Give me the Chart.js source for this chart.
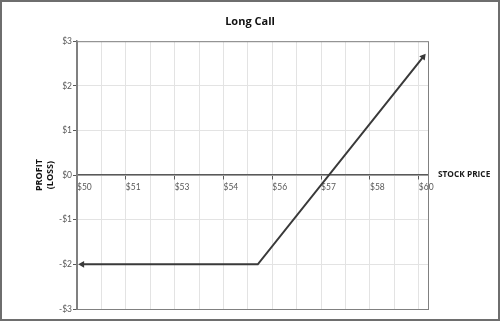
<!DOCTYPE html>
<html>
<head>
<meta charset="utf-8">
<script src="https://cdn.jsdelivr.net/npm/chart.js@4"></script>
<style>
  html, body { margin: 0; padding: 0; background: #fff; }
  #wrap { width: 500px; height: 321px; }
</style>
</head>
<body>
<div id="wrap"><canvas id="grafica"></canvas></div>
<script>
// datos del grafico
const precios = [50.15, 55.29, 60.13];
const ganancia = [-2, -2, 2.65];
const xTickLabels = ['$50', '$51', '$53', '$54', '$56', '$57', '$58', '$60'];
const yTickLabels = ['-$3', '-$2', '-$1', '$0', '$1', '$2', '$3'];

const FONT = 'Lato, "Open Sans", sans-serif';
const BOLD = '"Open Sans", Lato, sans-serif';

// marco exterior, borde del area y texto "STOCK PRICE"
const extras = {
  id: 'extras',
  afterDraw(chart) {
    const { ctx, chartArea: a } = chart;
    ctx.save();
    ctx.strokeStyle = '#808080';
    ctx.lineWidth = 1;
    ctx.strokeRect(a.left + 0.5, a.top + 0.5, a.right - a.left, a.bottom - a.top);
    ctx.strokeStyle = '#6e6e6e';
    ctx.lineWidth = 2;
    ctx.strokeRect(1, 1, chart.width - 2, chart.height - 2);
    ctx.fillStyle = '#1a1a1a';
    ctx.font = 'bold 8.3px ' + BOLD;
    ctx.textBaseline = 'middle';
    ctx.fillText('STOCK PRICE', a.right + 10, chart.scales.y.getPixelForValue(0));
    ctx.restore();
  }
};

const ctx = document.getElementById('grafica').getContext('2d');
let myChart = new Chart(ctx, {
  type: 'line',
  data: {
    datasets: [
      {
        label: 'Long Call',
        data: precios.map((p, i) => ({ x: p, y: ganancia[i] })),
        borderColor: '#3a3a3a',
        backgroundColor: '#3a3a3a',
        borderWidth: 2,
        pointStyle: 'triangle',
        pointRadius: c => (c.dataIndex === 1 ? 0 : 2),
        pointRotation: c => (c.dataIndex === 0 ? -90 : 38),
        tension: 0
      }
    ]
  },
  options: {
    responsive: true,
    maintainAspectRatio: false,
    animation: false,
    layout: { padding: { left: 0, right: 0, top: 0, bottom: 12 } },
    plugins: {
      legend: { display: false },
      tooltip: { enabled: false },
      title: {
        display: true,
        text: 'Long Call',
        color: '#111',
        font: { family: BOLD, size: 11, weight: 'bold', lineHeight: 1.2 },
        padding: { top: 15, bottom: 13 }
      }
    },
    scales: {
      x: {
        type: 'linear',
        position: { y: 0 },
        min: 50,
        max: 60.27,
        afterBuildTicks: s => {
          s.ticks = [];
          for (let k = 0; k <= 14; k++) s.ticks.push({ value: 50 + k * 10 / 14 });
        },
        grid: {
          color: '#e3e3e3',
          lineWidth: 1,
          tickLength: 4,
          tickColor: c => (c.index % 2 ? 'rgba(0,0,0,0)' : '#595959')
        },
        border: { color: '#595959', width: 1.5 },
        ticks: {
          autoSkip: false,
          maxRotation: 0,
          align: 'start',
          padding: 3,
          color: '#595959',
          font: { family: FONT, size: 8.5 },
          callback: (v, i) => (i % 2 ? '' : xTickLabels[i / 2])
        }
      },
      y: {
        position: 'left',
        min: -3,
        max: 3,
        afterFit: s => { s.width = 77; },
        grid: { color: '#e3e3e3', tickLength: 4, tickColor: '#595959' },
        border: { color: '#808080', width: 1.5 },
        ticks: {
          stepSize: 1,
          padding: 1,
          color: '#595959',
          font: { family: FONT, size: 8.5 },
          callback: (v, i) => yTickLabels[i]
        },
        title: {
          display: true,
          text: ['PROFIT', '(LOSS)'],
          color: '#111',
          font: { family: BOLD, size: 9, weight: 'bold', lineHeight: 1.2 },
          padding: { top: 34, bottom: 0 }
        }
      },
      y2: {
        position: 'right',
        min: -3,
        max: 3,
        afterFit: s => { s.width = 72; },
        grid: { display: false },
        border: { display: false },
        ticks: { display: false }
      }
    }
  },
  plugins: [extras]
});
</script>
</body>
</html>
